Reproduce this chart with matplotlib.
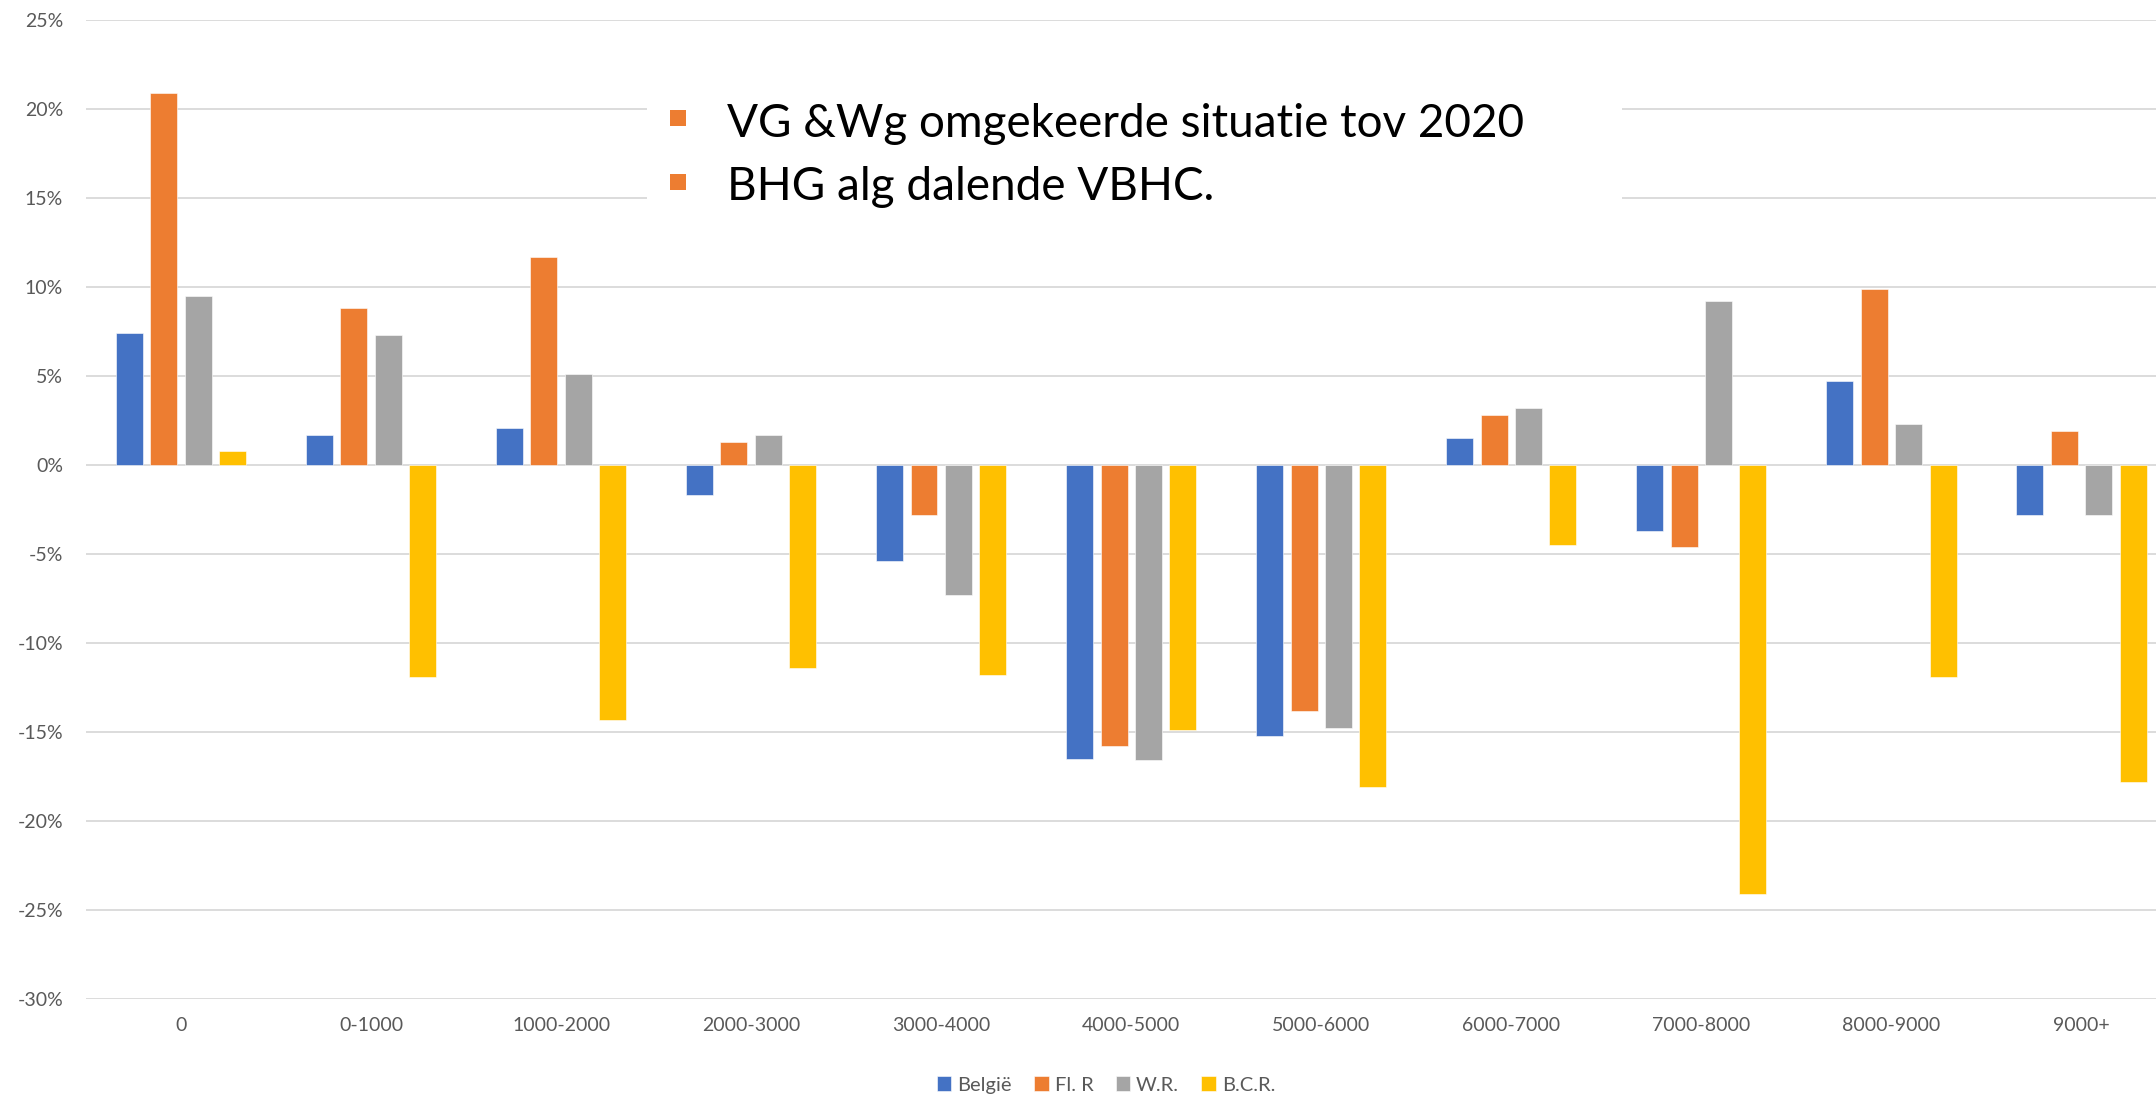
import numpy as np
import matplotlib
matplotlib.use("Agg")
import matplotlib.pyplot as plt
from matplotlib.patches import Rectangle
from matplotlib.ticker import FuncFormatter, MultipleLocator

# categorieën en waarden (in %)
categories = ["0", "0-1000", "1000-2000", "2000-3000", "3000-4000", "4000-5000",
              "5000-6000", "6000-7000", "7000-8000", "8000-9000", "9000+"]
belgie = [7.4, 1.7, 2.1, -1.7, -5.4, -16.5, -15.2, 1.5, -3.7, 4.7, -2.8]
fl_r = [20.9, 8.8, 11.7, 1.3, -2.8, -15.8, -13.8, 2.8, -4.6, 9.9, 1.9]
w_r = [9.5, 7.3, 5.1, 1.7, -7.3, -16.6, -14.8, 3.2, 9.2, 2.3, -2.8]
bcr = [0.8, -11.9, -14.3, -11.4, -11.8, -14.9, -18.1, -4.5, -24.1, -11.9, -17.8]

series_names = ["België", "Fl. R", "W.R.", "B.C.R."]
colors = ["#4472C4", "#ED7D31", "#A5A5A5", "#FFC000"]
note_lines = ["VG &Wg omgekeerde situatie tov 2020", "BHG alg dalende VBHC."]

plt.rcParams['font.family'] = ['Lato', 'DejaVu Sans']
plt.rcParams['axes.unicode_minus'] = False

W, H = 2156, 1097
fig = plt.figure(figsize=(W / 100, H / 100), dpi=100)
ax = fig.add_axes([86 / W, 98 / H, 2090.5 / W, 979 / H])

x = np.arange(len(categories))
step = 0.181
width = 0.142
for i, (vals, name, col) in enumerate(zip([belgie, fl_r, w_r, bcr], series_names, colors)):
    ax.bar(x + (i - 1.5) * step, np.array(vals) / 100, width, color=col, label=name,
           edgecolor="white", linewidth=0.4, zorder=3)

ax.set_xlim(-0.5, len(categories) - 0.5)
ax.set_ylim(-0.30, 0.25)
ax.yaxis.set_major_locator(MultipleLocator(0.05))
ax.yaxis.set_major_formatter(FuncFormatter(lambda v, p: f"{round(v * 100):d}%"))
ax.set_xticks(x)
ax.set_xticklabels(categories)
ax.grid(axis="y", color="#D9D9D9", linewidth=1.3, zorder=0)
ax.set_axisbelow(True)
for s in ax.spines.values():
    s.set_visible(False)
ax.tick_params(axis="x", length=0, pad=13, labelsize=14, labelcolor="#595959")
ax.tick_params(axis="y", length=0, pad=16.5, labelsize=14, labelcolor="#595959")

# legenda onderaan
fig.legend(loc="center", bbox_to_anchor=(1106 / W, 1 - 1085 / H), ncol=4, frameon=False,
           fontsize=14.5, labelcolor="#595959", handlelength=0.72, handleheight=0.72,
           handletextpad=0.3, columnspacing=1.1)

# witte tekstvak met opmerkingen
fig.patches.append(Rectangle((647 / W, 1 - 235 / H), 975 / W, 175 / H, transform=fig.transFigure,
                             facecolor="white", edgecolor="none", zorder=2))
for k, line in enumerate(note_lines):
    y_top = 110 + 64 * k
    fig.patches.append(Rectangle((670 / W, 1 - (y_top + 16) / H), 16 / W, 16 / H,
                                 transform=fig.transFigure, facecolor="#ED7D31",
                                 edgecolor="none", zorder=3))
    fig.text(727 / W, 1 - (137 + 63 * k) / H, line, fontsize=33, fontweight="normal",
             color="black", ha="left", va="baseline", zorder=4)

fig.savefig("out.png", dpi=100)
